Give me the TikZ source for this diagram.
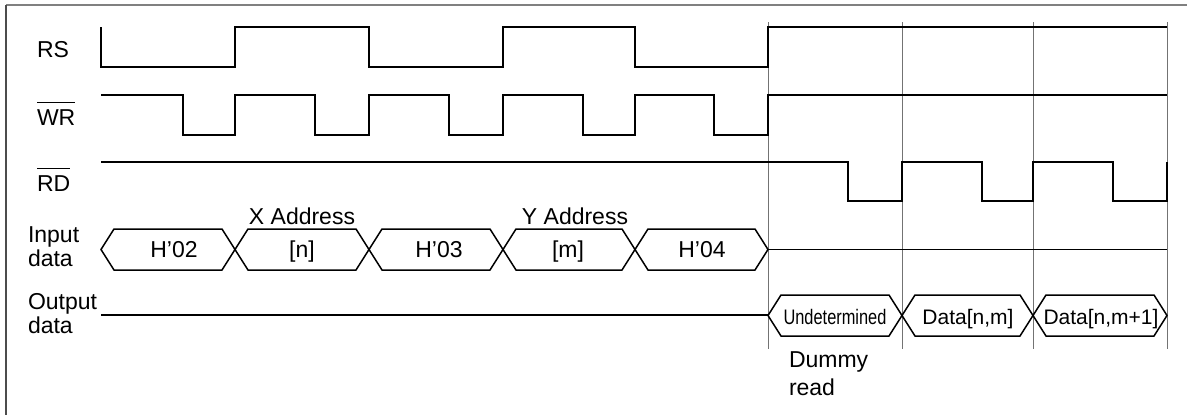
\documentclass[tikz,border=0pt]{standalone}
\usepackage{fontspec}
\setmainfont{Liberation Sans}
\newcommand\hexseg[4]{%
  \draw[sig] (#1,{(#3+#4)/2}) -- ({#1+13},#3) -- ({#2-13},#3) -- (#2,{(#3+#4)/2})
    -- ({#2-13},#4) -- ({#1+13},#4) -- cycle;}
\begin{document}
\begin{tikzpicture}[x=1pt,y=-1pt,
  sig/.style={line width=1.5pt, line join=miter, draw=black},
  marker/.style={line width=1pt, draw=black!55},
  framel/.style={line width=2pt, draw=black!50},
  bar/.style={line width=1.2pt, draw=black},
  lbl/.style={font=\fontsize{23}{24}\selectfont, inner sep=0pt, outer sep=0pt},
  dlbl/.style={font=\fontsize{21}{24}\selectfont, inner sep=0pt, outer sep=0pt}]
\useasboundingbox (0,0) rectangle (1187,415);
% frame (top and left only)
\draw[framel] (6,5) -- (1187,5);
\draw[line width=1.5pt, draw=black!70] (6,5) -- (6,415);
% marker lines
\foreach \x in {768,902,1033,1167} \draw[marker] (\x,22) -- (\x,349);
% RS
\draw[sig] (101,27) -- (101,67) -- (235,67) -- (235,27) -- (369,27) -- (369,67)
  -- (503,67) -- (503,27) -- (635,27) -- (635,67) -- (768,67) -- (768,27) -- (1167,27);
% WR
\draw[sig] (101,95) -- (183,95) -- (183,135) -- (235,135) -- (235,95) -- (315,95)
  -- (315,135) -- (369,135) -- (369,95) -- (449,95) -- (449,135) -- (503,135)
  -- (503,95) -- (583,95) -- (583,135) -- (635,135) -- (635,95) -- (714,95)
  -- (714,135) -- (768,135) -- (768,95) -- (1167,95);
% RD
\draw[sig] (101,162) -- (848,162) -- (848,201) -- (902,201) -- (902,162) -- (982,162)
  -- (982,201) -- (1033,201) -- (1033,162) -- (1113,162) -- (1113,201) -- (1167,201)
  -- (1167,162);
% Input data bus
\hexseg{101}{235}{229}{270}
\hexseg{235}{369}{229}{270}
\hexseg{369}{503}{229}{270}
\hexseg{503}{635}{229}{270}
\hexseg{635}{768}{229}{270}
\draw[sig] (768,249.5) -- (1167,249.5);
% Output data bus
\draw[sig] (101,315) -- (768,315);
\hexseg{768}{902}{295}{336}
\hexseg{902}{1033}{295}{336}
\hexseg{1033}{1167}{295}{336}
% signal labels
\node[lbl, anchor=base west] (rs) at (37,57) {RS};
\node[lbl, anchor=base west] (wr) at (37,125) {WR};
\node[lbl, anchor=base west] (rd) at (37,191) {RD};
\draw[bar] ([yshift=7pt]wr.north west) -- ([yshift=7pt]wr.north east);
\draw[bar] ([yshift=7pt]rd.north west) -- ([yshift=7pt]rd.north east);
\node[lbl, anchor=base west, align=left] (in) at (28,266) {Input\\data};
\node[lbl, anchor=base west, align=left] (out) at (28,333) {Output\\data};
% bus labels
\node[lbl, anchor=base] (xa) at (302,224) {X Address};
\node[lbl, anchor=base] (ya) at (575,224) {Y Address};
\node[lbl, anchor=base] (h02) at (174,257) {H’02};
\node[lbl, anchor=base] (n) at (302,257) {[n]};
\node[lbl, anchor=base] (h03) at (439,257) {H’03};
\node[lbl, anchor=base] (m) at (568,257) {[m]};
\node[lbl, anchor=base] (h04) at (702,257) {H’04};
\node[dlbl, anchor=base] (und) at (835,324) {\scalebox{0.78}[1]{Undetermined}};
\node[dlbl, anchor=base] (dnm) at (968,324) {Data[n,m]};
\node[dlbl, anchor=base] (dnm1) at (1101,324) {Data[n,m+1]};
\node[lbl, anchor=base west, align=left, font=\fontsize{23}{28}\selectfont] (dummy) at (789,395) {Dummy\\read};
\end{tikzpicture}
\end{document}
